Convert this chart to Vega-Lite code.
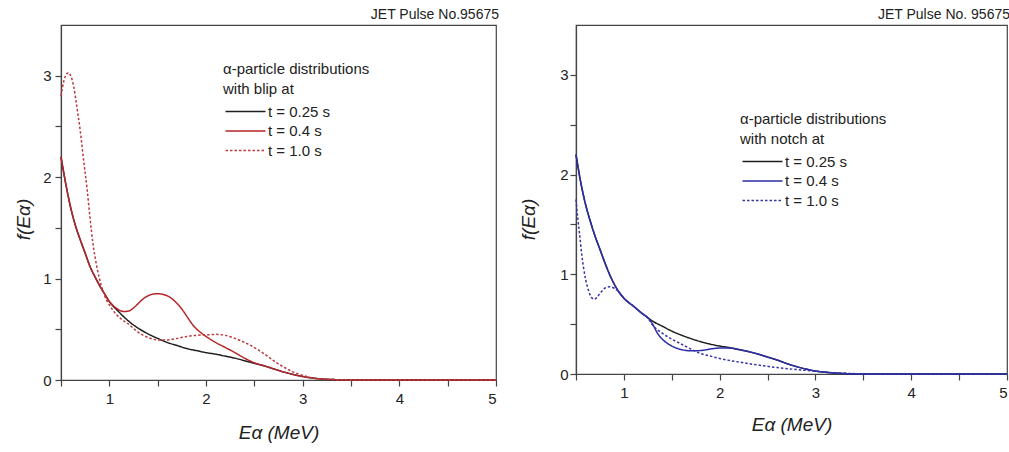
{
  "$schema": "https://vega.github.io/schema/vega-lite/v6.json",
  "padding": {"left": 13, "top": 7, "right": 0, "bottom": 0},
  "spacing": 18,
  "config": {
    "view": {"stroke": "#444", "strokeWidth": 1.2},
    "font": "Liberation Sans",
    "axis": {"domainColor": "#444", "domainWidth": 1.2, "tickColor": "#444", "tickWidth": 1.2, "tickSize": 6, "labelFont": "Liberation Sans", "labelFontSize": 15, "labelColor": "#222", "grid": false, "format": "d", "titleFont": "Liberation Sans", "titleFontSize": 19, "titleFontStyle": "italic", "titleFontWeight": "normal", "titleColor": "#222"},
    "title": {"font": "Liberation Sans", "fontSize": 14, "fontWeight": "normal", "color": "#222", "anchor": "end", "baseline": "alphabetic", "offset": 3},
    "legend": {"titleFont": "Liberation Sans", "labelFont": "Liberation Sans", "titleFontSize": 15, "titleFontWeight": "normal", "titleColor": "#222", "labelColor": "#222", "labelFontSize": 15, "titleLineHeight": 20, "titleLimit": 400, "labelLimit": 300, "symbolType": "M-1,0H7", "symbolSize": 100, "symbolStrokeWidth": 1.5, "labelOffset": 30, "rowPadding": 3.5, "titlePadding": 7}
  },
  "resolve": {"scale": {"color": "independent", "strokeDash": "independent"}, "legend": {"color": "independent", "strokeDash": "independent"}},
  "datasets": {
    "blip": [
      {"series": "t = 0.25 s", "E": 0.5, "f": 2.2}, {"series": "t = 0.25 s", "E": 0.55, "f": 1.93}, {"series": "t = 0.25 s", "E": 0.6, "f": 1.7}, {"series": "t = 0.25 s", "E": 0.65, "f": 1.52}, {"series": "t = 0.25 s", "E": 0.7, "f": 1.38}, {"series": "t = 0.25 s", "E": 0.75, "f": 1.25}, {"series": "t = 0.25 s", "E": 0.8, "f": 1.12}, {"series": "t = 0.25 s", "E": 0.85, "f": 1.02}, {"series": "t = 0.25 s", "E": 0.9, "f": 0.93}, {"series": "t = 0.25 s", "E": 0.95, "f": 0.85}, {"series": "t = 0.25 s", "E": 1.0, "f": 0.775}, {"series": "t = 0.25 s", "E": 1.1, "f": 0.67}, {"series": "t = 0.25 s", "E": 1.2, "f": 0.58}, {"series": "t = 0.25 s", "E": 1.3, "f": 0.51}, {"series": "t = 0.25 s", "E": 1.4, "f": 0.455}, {"series": "t = 0.25 s", "E": 1.5, "f": 0.41}, {"series": "t = 0.25 s", "E": 1.6, "f": 0.37}, {"series": "t = 0.25 s", "E": 1.7, "f": 0.34}, {"series": "t = 0.25 s", "E": 1.8, "f": 0.31}, {"series": "t = 0.25 s", "E": 1.9, "f": 0.29}, {"series": "t = 0.25 s", "E": 2.0, "f": 0.27}, {"series": "t = 0.25 s", "E": 2.1, "f": 0.255}, {"series": "t = 0.25 s", "E": 2.2, "f": 0.235}, {"series": "t = 0.25 s", "E": 2.3, "f": 0.215}, {"series": "t = 0.25 s", "E": 2.4, "f": 0.19}, {"series": "t = 0.25 s", "E": 2.5, "f": 0.165}, {"series": "t = 0.25 s", "E": 2.6, "f": 0.14}, {"series": "t = 0.25 s", "E": 2.7, "f": 0.11}, {"series": "t = 0.25 s", "E": 2.8, "f": 0.08}, {"series": "t = 0.25 s", "E": 2.9, "f": 0.055}, {"series": "t = 0.25 s", "E": 3.0, "f": 0.035}, {"series": "t = 0.25 s", "E": 3.1, "f": 0.02}, {"series": "t = 0.25 s", "E": 3.2, "f": 0.01}, {"series": "t = 0.25 s", "E": 3.35, "f": 0.003}, {"series": "t = 0.25 s", "E": 3.5, "f": 0}, {"series": "t = 0.25 s", "E": 5.0, "f": 0},
      {"series": "t = 0.4 s", "E": 0.5, "f": 2.2}, {"series": "t = 0.4 s", "E": 0.55, "f": 1.93}, {"series": "t = 0.4 s", "E": 0.6, "f": 1.7}, {"series": "t = 0.4 s", "E": 0.65, "f": 1.52}, {"series": "t = 0.4 s", "E": 0.7, "f": 1.38}, {"series": "t = 0.4 s", "E": 0.75, "f": 1.25}, {"series": "t = 0.4 s", "E": 0.8, "f": 1.12}, {"series": "t = 0.4 s", "E": 0.85, "f": 1.02}, {"series": "t = 0.4 s", "E": 0.9, "f": 0.93}, {"series": "t = 0.4 s", "E": 0.95, "f": 0.85}, {"series": "t = 0.4 s", "E": 1.0, "f": 0.775}, {"series": "t = 0.4 s", "E": 1.05, "f": 0.725}, {"series": "t = 0.4 s", "E": 1.1, "f": 0.69}, {"series": "t = 0.4 s", "E": 1.15, "f": 0.675}, {"series": "t = 0.4 s", "E": 1.2, "f": 0.68}, {"series": "t = 0.4 s", "E": 1.25, "f": 0.71}, {"series": "t = 0.4 s", "E": 1.3, "f": 0.755}, {"series": "t = 0.4 s", "E": 1.35, "f": 0.8}, {"series": "t = 0.4 s", "E": 1.4, "f": 0.83}, {"series": "t = 0.4 s", "E": 1.45, "f": 0.847}, {"series": "t = 0.4 s", "E": 1.5, "f": 0.85}, {"series": "t = 0.4 s", "E": 1.55, "f": 0.845}, {"series": "t = 0.4 s", "E": 1.6, "f": 0.83}, {"series": "t = 0.4 s", "E": 1.65, "f": 0.8}, {"series": "t = 0.4 s", "E": 1.7, "f": 0.755}, {"series": "t = 0.4 s", "E": 1.75, "f": 0.7}, {"series": "t = 0.4 s", "E": 1.8, "f": 0.63}, {"series": "t = 0.4 s", "E": 1.85, "f": 0.56}, {"series": "t = 0.4 s", "E": 1.9, "f": 0.505}, {"series": "t = 0.4 s", "E": 1.95, "f": 0.465}, {"series": "t = 0.4 s", "E": 2.0, "f": 0.43}, {"series": "t = 0.4 s", "E": 2.1, "f": 0.37}, {"series": "t = 0.4 s", "E": 2.2, "f": 0.32}, {"series": "t = 0.4 s", "E": 2.3, "f": 0.27}, {"series": "t = 0.4 s", "E": 2.4, "f": 0.215}, {"series": "t = 0.4 s", "E": 2.5, "f": 0.17}, {"series": "t = 0.4 s", "E": 2.6, "f": 0.14}, {"series": "t = 0.4 s", "E": 2.7, "f": 0.11}, {"series": "t = 0.4 s", "E": 2.8, "f": 0.08}, {"series": "t = 0.4 s", "E": 2.9, "f": 0.055}, {"series": "t = 0.4 s", "E": 3.0, "f": 0.035}, {"series": "t = 0.4 s", "E": 3.1, "f": 0.02}, {"series": "t = 0.4 s", "E": 3.2, "f": 0.01}, {"series": "t = 0.4 s", "E": 3.35, "f": 0.003}, {"series": "t = 0.4 s", "E": 3.5, "f": 0}, {"series": "t = 0.4 s", "E": 5.0, "f": 0},
      {"series": "t = 1.0 s", "E": 0.5, "f": 2.8}, {"series": "t = 1.0 s", "E": 0.53, "f": 2.95}, {"series": "t = 1.0 s", "E": 0.56, "f": 3.02}, {"series": "t = 1.0 s", "E": 0.58, "f": 3.03}, {"series": "t = 1.0 s", "E": 0.6, "f": 3.0}, {"series": "t = 1.0 s", "E": 0.63, "f": 2.9}, {"series": "t = 1.0 s", "E": 0.66, "f": 2.72}, {"series": "t = 1.0 s", "E": 0.7, "f": 2.45}, {"series": "t = 1.0 s", "E": 0.73, "f": 2.2}, {"series": "t = 1.0 s", "E": 0.77, "f": 1.88}, {"series": "t = 1.0 s", "E": 0.8, "f": 1.6}, {"series": "t = 1.0 s", "E": 0.83, "f": 1.35}, {"series": "t = 1.0 s", "E": 0.87, "f": 1.12}, {"series": "t = 1.0 s", "E": 0.92, "f": 0.92}, {"series": "t = 1.0 s", "E": 0.97, "f": 0.79}, {"series": "t = 1.0 s", "E": 1.0, "f": 0.74}, {"series": "t = 1.0 s", "E": 1.1, "f": 0.62}, {"series": "t = 1.0 s", "E": 1.2, "f": 0.55}, {"series": "t = 1.0 s", "E": 1.3, "f": 0.47}, {"series": "t = 1.0 s", "E": 1.4, "f": 0.42}, {"series": "t = 1.0 s", "E": 1.5, "f": 0.395}, {"series": "t = 1.0 s", "E": 1.6, "f": 0.395}, {"series": "t = 1.0 s", "E": 1.7, "f": 0.41}, {"series": "t = 1.0 s", "E": 1.8, "f": 0.43}, {"series": "t = 1.0 s", "E": 1.9, "f": 0.44}, {"series": "t = 1.0 s", "E": 2.0, "f": 0.445}, {"series": "t = 1.0 s", "E": 2.1, "f": 0.45}, {"series": "t = 1.0 s", "E": 2.2, "f": 0.44}, {"series": "t = 1.0 s", "E": 2.3, "f": 0.41}, {"series": "t = 1.0 s", "E": 2.4, "f": 0.37}, {"series": "t = 1.0 s", "E": 2.5, "f": 0.32}, {"series": "t = 1.0 s", "E": 2.6, "f": 0.26}, {"series": "t = 1.0 s", "E": 2.7, "f": 0.19}, {"series": "t = 1.0 s", "E": 2.8, "f": 0.13}, {"series": "t = 1.0 s", "E": 2.9, "f": 0.08}, {"series": "t = 1.0 s", "E": 3.0, "f": 0.045}, {"series": "t = 1.0 s", "E": 3.1, "f": 0.02}, {"series": "t = 1.0 s", "E": 3.2, "f": 0.01}, {"series": "t = 1.0 s", "E": 3.35, "f": 0.003}, {"series": "t = 1.0 s", "E": 3.5, "f": 0}, {"series": "t = 1.0 s", "E": 5.0, "f": 0}
    ],
    "notch": [
      {"series": "t = 0.25 s", "E": 0.5, "f": 2.2}, {"series": "t = 0.25 s", "E": 0.55, "f": 1.92}, {"series": "t = 0.25 s", "E": 0.6, "f": 1.7}, {"series": "t = 0.25 s", "E": 0.65, "f": 1.53}, {"series": "t = 0.25 s", "E": 0.7, "f": 1.38}, {"series": "t = 0.25 s", "E": 0.75, "f": 1.25}, {"series": "t = 0.25 s", "E": 0.8, "f": 1.12}, {"series": "t = 0.25 s", "E": 0.85, "f": 1.0}, {"series": "t = 0.25 s", "E": 0.9, "f": 0.9}, {"series": "t = 0.25 s", "E": 0.95, "f": 0.82}, {"series": "t = 0.25 s", "E": 1.0, "f": 0.76}, {"series": "t = 0.25 s", "E": 1.1, "f": 0.68}, {"series": "t = 0.25 s", "E": 1.2, "f": 0.6}, {"series": "t = 0.25 s", "E": 1.25, "f": 0.565}, {"series": "t = 0.25 s", "E": 1.3, "f": 0.53}, {"series": "t = 0.25 s", "E": 1.4, "f": 0.48}, {"series": "t = 0.25 s", "E": 1.5, "f": 0.43}, {"series": "t = 0.25 s", "E": 1.6, "f": 0.39}, {"series": "t = 0.25 s", "E": 1.7, "f": 0.355}, {"series": "t = 0.25 s", "E": 1.8, "f": 0.325}, {"series": "t = 0.25 s", "E": 1.9, "f": 0.3}, {"series": "t = 0.25 s", "E": 2.0, "f": 0.28}, {"series": "t = 0.25 s", "E": 2.1, "f": 0.265}, {"series": "t = 0.25 s", "E": 2.2, "f": 0.245}, {"series": "t = 0.25 s", "E": 2.3, "f": 0.225}, {"series": "t = 0.25 s", "E": 2.4, "f": 0.2}, {"series": "t = 0.25 s", "E": 2.5, "f": 0.17}, {"series": "t = 0.25 s", "E": 2.6, "f": 0.14}, {"series": "t = 0.25 s", "E": 2.7, "f": 0.105}, {"series": "t = 0.25 s", "E": 2.8, "f": 0.075}, {"series": "t = 0.25 s", "E": 2.9, "f": 0.05}, {"series": "t = 0.25 s", "E": 3.0, "f": 0.03}, {"series": "t = 0.25 s", "E": 3.1, "f": 0.018}, {"series": "t = 0.25 s", "E": 3.2, "f": 0.01}, {"series": "t = 0.25 s", "E": 3.35, "f": 0.003}, {"series": "t = 0.25 s", "E": 3.5, "f": 0}, {"series": "t = 0.25 s", "E": 5.0, "f": 0},
      {"series": "t = 0.4 s", "E": 0.5, "f": 2.2}, {"series": "t = 0.4 s", "E": 0.55, "f": 1.92}, {"series": "t = 0.4 s", "E": 0.6, "f": 1.7}, {"series": "t = 0.4 s", "E": 0.65, "f": 1.53}, {"series": "t = 0.4 s", "E": 0.7, "f": 1.38}, {"series": "t = 0.4 s", "E": 0.75, "f": 1.25}, {"series": "t = 0.4 s", "E": 0.8, "f": 1.12}, {"series": "t = 0.4 s", "E": 0.85, "f": 1.0}, {"series": "t = 0.4 s", "E": 0.9, "f": 0.9}, {"series": "t = 0.4 s", "E": 0.95, "f": 0.82}, {"series": "t = 0.4 s", "E": 1.0, "f": 0.76}, {"series": "t = 0.4 s", "E": 1.1, "f": 0.68}, {"series": "t = 0.4 s", "E": 1.2, "f": 0.6}, {"series": "t = 0.4 s", "E": 1.25, "f": 0.565}, {"series": "t = 0.4 s", "E": 1.3, "f": 0.5}, {"series": "t = 0.4 s", "E": 1.35, "f": 0.41}, {"series": "t = 0.4 s", "E": 1.4, "f": 0.35}, {"series": "t = 0.4 s", "E": 1.45, "f": 0.31}, {"series": "t = 0.4 s", "E": 1.5, "f": 0.28}, {"series": "t = 0.4 s", "E": 1.6, "f": 0.245}, {"series": "t = 0.4 s", "E": 1.7, "f": 0.232}, {"series": "t = 0.4 s", "E": 1.8, "f": 0.235}, {"series": "t = 0.4 s", "E": 1.9, "f": 0.25}, {"series": "t = 0.4 s", "E": 2.0, "f": 0.26}, {"series": "t = 0.4 s", "E": 2.1, "f": 0.26}, {"series": "t = 0.4 s", "E": 2.2, "f": 0.245}, {"series": "t = 0.4 s", "E": 2.3, "f": 0.225}, {"series": "t = 0.4 s", "E": 2.4, "f": 0.2}, {"series": "t = 0.4 s", "E": 2.5, "f": 0.17}, {"series": "t = 0.4 s", "E": 2.6, "f": 0.14}, {"series": "t = 0.4 s", "E": 2.7, "f": 0.105}, {"series": "t = 0.4 s", "E": 2.8, "f": 0.075}, {"series": "t = 0.4 s", "E": 2.9, "f": 0.05}, {"series": "t = 0.4 s", "E": 3.0, "f": 0.03}, {"series": "t = 0.4 s", "E": 3.1, "f": 0.018}, {"series": "t = 0.4 s", "E": 3.2, "f": 0.01}, {"series": "t = 0.4 s", "E": 3.35, "f": 0.003}, {"series": "t = 0.4 s", "E": 3.5, "f": 0}, {"series": "t = 0.4 s", "E": 5.0, "f": 0},
      {"series": "t = 1.0 s", "E": 0.5, "f": 1.75}, {"series": "t = 1.0 s", "E": 0.52, "f": 1.55}, {"series": "t = 1.0 s", "E": 0.54, "f": 1.38}, {"series": "t = 1.0 s", "E": 0.56, "f": 1.2}, {"series": "t = 1.0 s", "E": 0.58, "f": 1.06}, {"series": "t = 1.0 s", "E": 0.6, "f": 0.95}, {"series": "t = 1.0 s", "E": 0.63, "f": 0.84}, {"series": "t = 1.0 s", "E": 0.66, "f": 0.77}, {"series": "t = 1.0 s", "E": 0.69, "f": 0.75}, {"series": "t = 1.0 s", "E": 0.72, "f": 0.77}, {"series": "t = 1.0 s", "E": 0.76, "f": 0.82}, {"series": "t = 1.0 s", "E": 0.8, "f": 0.86}, {"series": "t = 1.0 s", "E": 0.85, "f": 0.875}, {"series": "t = 1.0 s", "E": 0.9, "f": 0.86}, {"series": "t = 1.0 s", "E": 0.95, "f": 0.82}, {"series": "t = 1.0 s", "E": 1.0, "f": 0.76}, {"series": "t = 1.0 s", "E": 1.1, "f": 0.68}, {"series": "t = 1.0 s", "E": 1.2, "f": 0.6}, {"series": "t = 1.0 s", "E": 1.25, "f": 0.56}, {"series": "t = 1.0 s", "E": 1.3, "f": 0.49}, {"series": "t = 1.0 s", "E": 1.4, "f": 0.41}, {"series": "t = 1.0 s", "E": 1.5, "f": 0.35}, {"series": "t = 1.0 s", "E": 1.6, "f": 0.3}, {"series": "t = 1.0 s", "E": 1.7, "f": 0.25}, {"series": "t = 1.0 s", "E": 1.8, "f": 0.205}, {"series": "t = 1.0 s", "E": 1.9, "f": 0.18}, {"series": "t = 1.0 s", "E": 2.0, "f": 0.155}, {"series": "t = 1.0 s", "E": 2.2, "f": 0.12}, {"series": "t = 1.0 s", "E": 2.4, "f": 0.09}, {"series": "t = 1.0 s", "E": 2.6, "f": 0.065}, {"series": "t = 1.0 s", "E": 2.8, "f": 0.045}, {"series": "t = 1.0 s", "E": 3.0, "f": 0.028}, {"series": "t = 1.0 s", "E": 3.2, "f": 0.012}, {"series": "t = 1.0 s", "E": 3.4, "f": 0.004}, {"series": "t = 1.0 s", "E": 3.5, "f": 0}, {"series": "t = 1.0 s", "E": 5.0, "f": 0}
    ]
  },
  "hconcat": [
    {
      "width": 435, "height": 355,
      "title": {"text": "JET Pulse No.95675"},
      "data": {"name": "blip"},
      "mark": {"type": "line", "interpolate": "monotone", "strokeWidth": 1.5},
      "encoding": {
        "x": {"field": "E", "type": "quantitative", "scale": {"domain": [0.5, 5], "nice": false, "zero": false}, "axis": {"values": [0.5, 1, 1.5, 2, 2.5, 3, 3.5, 4, 4.5, 5], "labelExpr": "datum.value % 1 === 0 ? datum.label : ''", "labelPadding": 5, "title": "Eα (MeV)", "titleY": 58, "titleBaseline": "alphabetic"}},
        "y": {"field": "f", "type": "quantitative", "scale": {"domain": [0, 3.5], "nice": false}, "axis": {"values": [0, 0.5, 1, 1.5, 2, 2.5, 3], "labelExpr": "datum.value % 1 === 0 ? datum.label : ''", "labelPadding": 4, "title": "f(Eα)", "titleX": -32, "titleY": 194, "titleBaseline": "alphabetic"}},
        "color": {"field": "series", "type": "nominal", "scale": {"domain": ["t = 0.25 s", "t = 0.4 s", "t = 1.0 s"], "range": ["#1e1e1e", "#b5262a", "#bb3a3e"]}, "legend": {"orient": "none", "legendX": 162, "legendY": 37, "title": ["α-particle distributions", "with blip at"]}},
        "strokeDash": {"field": "series", "type": "nominal", "scale": {"domain": ["t = 0.25 s", "t = 0.4 s", "t = 1.0 s"], "range": [[1, 0], [1, 0], [2.5, 2]]}, "legend": {"orient": "none", "legendX": 162, "legendY": 37, "title": ["α-particle distributions", "with blip at"]}}
      }
    },
    {
      "width": 431, "height": 349,
      "title": {"text": "JET Pulse No. 95675"},
      "data": {"name": "notch"},
      "mark": {"type": "line", "interpolate": "monotone", "strokeWidth": 1.5},
      "encoding": {
        "x": {"field": "E", "type": "quantitative", "scale": {"domain": [0.5, 5], "nice": false, "zero": false}, "axis": {"values": [0.5, 1, 1.5, 2, 2.5, 3, 3.5, 4, 4.5, 5], "labelExpr": "datum.value % 1 === 0 ? datum.label : ''", "labelPadding": 5, "labelFlush": true, "labelFlushOffset": 0, "title": "Eα (MeV)", "titleY": 56, "titleBaseline": "alphabetic"}},
        "y": {"field": "f", "type": "quantitative", "scale": {"domain": [0, 3.5], "nice": false}, "axis": {"values": [0, 0.5, 1, 1.5, 2, 2.5, 3], "labelExpr": "datum.value % 1 === 0 ? datum.label : ''", "labelPadding": 2, "title": "f(Eα)", "titleX": -42, "titleY": 194, "titleBaseline": "alphabetic"}},
        "color": {"field": "series", "type": "nominal", "scale": {"domain": ["t = 0.25 s", "t = 0.4 s", "t = 1.0 s"], "range": ["#1e1e1e", "#2c2ca8", "#3636aa"]}, "legend": {"orient": "none", "legendX": 164, "legendY": 87, "title": ["α-particle distributions", "with notch at"]}},
        "strokeDash": {"field": "series", "type": "nominal", "scale": {"domain": ["t = 0.25 s", "t = 0.4 s", "t = 1.0 s"], "range": [[1, 0], [1, 0], [2.5, 2]]}, "legend": {"orient": "none", "legendX": 164, "legendY": 87, "title": ["α-particle distributions", "with notch at"]}}
      }
    }
  ]
}
